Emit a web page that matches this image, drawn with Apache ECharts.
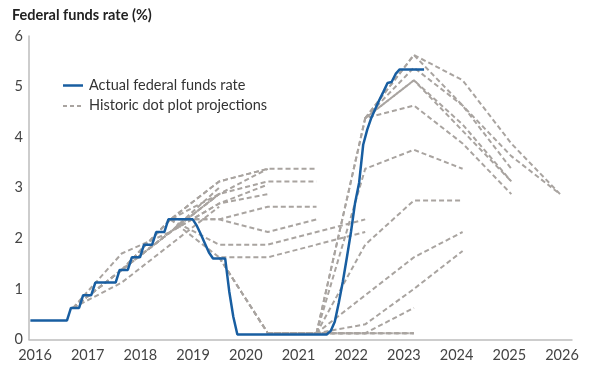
<!DOCTYPE html>
<html><head><meta charset="utf-8">
<script src="https://cdn.jsdelivr.net/npm/echarts@6/dist/echarts.min.js"></script>
<style>html,body{margin:0;padding:0;background:#fff}#c{width:600px;height:371px}</style>
</head><body><div id="c"></div>
<script>
// ---- data ----
const titleText = 'Federal funds rate (%)';
const xTickLabels = [2016, 2017, 2018, 2019, 2020, 2021, 2022, 2023, 2024, 2025, 2026];
const yTicks = [0, 1, 2, 3, 4, 5, 6];
const actualName = 'Actual federal funds rate';
const dotName = 'Historic dot plot projections';

// Actual rate, monthly (mid-month), starting Feb 2016
const blueStartYear = 2016, blueStartMonth = 2;
const blue2016 = [0.375,0.375,0.375,0.375,0.375,0.375,0.375,0.375,0.375,0.375,0.625];
const blue2017 = [0.625,0.625,0.875,0.875,0.875,1.125,1.125,1.125,1.125,1.125,1.125,1.375];
const blue2018 = [1.375,1.375,1.625,1.625,1.625,1.875,1.875,1.875,2.125,2.125,2.125,2.375];
const blue2019 = [2.375,2.375,2.375,2.375,2.375,2.375,2.25,2.08,1.9,1.72,1.6,1.6];
const blue2020 = [1.6,1.6,0.95,0.45,0.1,0.1,0.1,0.1,0.1,0.1,0.1,0.1];
const blue2021 = [0.1,0.1,0.1,0.1,0.1,0.1,0.1,0.1,0.1,0.1,0.1,0.1];
const blue2022 = [0.1,0.1,0.1,0.17,0.35,0.73,1.15,1.63,2.13,2.7,3.1,3.85];
const blue2023 = [4.15,4.38,4.56,4.74,4.9,5.07,5.09,5.25,5.34,5.34,5.34,5.34];
const blue2024 = [5.34,5.34,5.34];

// Dot plot medians: first value = previous year-end actual, then year-end medians
const dotStartYear = [2016,2016,2016,2016,2016,2016, 2017,2017,2017,2017, 2018,2018,2018,2018,
  2019,2019,2019, 2020,2020,2020,2020, 2021,2021,2021,2021, 2022,2022,2022,2022];
const dotValues = [
  [0.625,1.7,2.125,2.875],
  [0.625,1.125,1.875,2.625],
  [0.625,1.375,2.125,3.0],
  [0.625,1.375,2.125,2.875],
  [0.625,1.375,2.125,2.688,2.875],
  [0.625,1.375,2.125,2.688,3.063],
  [1.375,2.125,2.875,3.375],
  [1.375,2.375,3.125,3.375],
  [1.375,2.375,3.125,3.375,3.375],
  [1.375,2.375,2.875,3.125,3.125],
  [2.375,2.375,2.625,2.625],
  [2.375,2.375,2.125,2.375],
  [2.375,1.875,1.875,2.125,2.375],
  [2.375,1.625,1.625,1.875,2.125],
  [1.625,0.125,0.125,0.125],
  [1.625,0.125,0.125,0.125,0.125],
  [1.625,0.125,0.125,0.125,0.125],
  [0.125,0.125,0.125,0.125],
  [0.125,0.125,0.125,0.625],
  [0.125,0.125,0.3,1.0,1.75],
  [0.125,0.125,0.875,1.625,2.125],
  [0.125,1.875,2.75,2.75],
  [0.125,3.375,3.75,3.375],
  [0.125,4.375,4.625,3.875,2.875],
  [0.125,4.375,5.125,4.125,3.125],
  [4.375,5.125,4.25,3.125],
  [4.375,5.625,4.625,3.375],
  [4.375,5.625,5.125,3.875,2.875],
  [4.375,5.375,4.625,3.625,2.875]
];

// ---- build ----
const FONT = 'Lato, "Open Sans", sans-serif';
const BLUE = '#185ea1';
const GRAY = '#a9a4a0';
const AXIS = '#bdbdbd';

const blueAll = [].concat(blue2016, blue2017, blue2018, blue2019, blue2020, blue2021, blue2022, blue2023, blue2024);
const blueData = blueAll.map((v, i) => [blueStartYear + (blueStartMonth - 1 + i + 0.5) / 12, v]);

const series = [];
dotValues.forEach((vals, k) => {
  series.push({
    name: dotName, type: 'line', xAxisIndex: 0, yAxisIndex: 0,
    symbol: 'none', silent: true, z: 2,
    lineStyle: { color: GRAY, width: 2, type: [5, 3] },
    data: vals.map((v, j) => [dotStartYear[k] + 1 + j, v])
  });
});
series.push({
  name: actualName, type: 'line', xAxisIndex: 0, yAxisIndex: 0,
  symbol: 'none', silent: true, z: 5,
  lineStyle: { color: BLUE, width: 2.5 },
  data: blueData
});

const chart = echarts.init(document.getElementById('c'), null, { renderer: 'canvas' });
chart.setOption({
  animation: false,
  backgroundColor: '#fff',
  textStyle: { fontFamily: FONT },
  title: {
    text: titleText, left: 7, top: 3,
    textStyle: { fontFamily: FONT, fontSize: 14.5, fontWeight: 'bold', color: '#222' }
  },
  graphic: [
    { type: 'line', shape: { x1: 63, y1: 85.5, x2: 83, y2: 85.5 }, style: { stroke: BLUE, lineWidth: 2.5 } },
    { type: 'text', x: 89, y: 85, style: { text: actualName, fill: '#333', font: '14.5px ' + FONT, verticalAlign: 'middle' } },
    { type: 'line', shape: { x1: 63, y1: 106, x2: 84, y2: 106 }, style: { stroke: GRAY, lineWidth: 2, lineDash: [4, 3] } },
    { type: 'text', x: 89, y: 105, style: { text: dotName, fill: '#333', font: '14.5px ' + FONT, verticalAlign: 'middle' } }
  ],
  grid: [
    { left: 29, right: 28, top: 36, bottom: 31.5 },
    { left: 35, right: 38, top: 36, bottom: 31.5 }
  ],
  xAxis: [
    { type: 'value', gridIndex: 0, min: 2016.0965, max: 2027.246,
      axisLine: { show: true, lineStyle: { color: AXIS, width: 1.5 } },
      axisTick: { show: false }, axisLabel: { show: false }, splitLine: { show: false } },
    { type: 'value', gridIndex: 1, min: xTickLabels[0], max: xTickLabels[xTickLabels.length - 1], interval: 1,
      axisLine: { show: false }, axisTick: { show: false }, splitLine: { show: false },
      axisLabel: { fontFamily: FONT, fontSize: 14.5, color: '#444', margin: 8, formatter: v => String(v) } }
  ],
  yAxis: [
    { type: 'value', gridIndex: 0, min: yTicks[0], max: yTicks[yTicks.length - 1], interval: 1,
      axisLine: { show: true, lineStyle: { color: AXIS, width: 1.5 } },
      axisTick: { show: false }, splitLine: { show: false },
      axisLabel: { fontFamily: FONT, fontSize: 14.5, color: '#444', margin: 6, padding: [0, 0, 4, 0] } },
    { type: 'value', gridIndex: 1, min: 0, max: 6, show: false }
  ],
  series: series
});
</script></body></html>
